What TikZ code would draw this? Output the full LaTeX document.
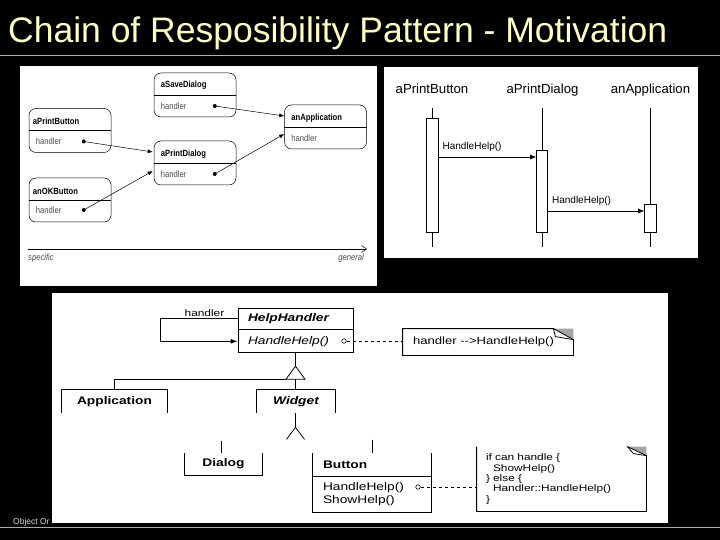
\documentclass[tikz,border=0pt]{standalone}
\usepackage{fontspec}
\setmainfont{Liberation Sans}
\newfontfamily\objfont[FakeStretch=0.85]{Liberation Sans}
\newfontfamily\umlfont[FakeStretch=1.25]{Liberation Sans}
\usetikzlibrary{positioning, arrows.meta, calc}
\definecolor{titletext}{RGB}{255, 255, 190}
\definecolor{slideline}{RGB}{150, 180, 200}
\definecolor{footertext}{RGB}{205, 220, 230}
\definecolor{foldgray}{RGB}{165, 165, 165}

\begin{document}
\begin{tikzpicture}[
    x=1pt, y=-1pt,
    panel/.style={fill=white, draw=none},
    obj/.style={
        draw, rounded corners=7pt, line width=0.5pt,
        minimum width=82pt, minimum height=44pt, inner sep=0pt,
    },
    objname/.style={font=\objfont\fontsize{9}{10}\selectfont\bfseries,
        anchor=west, inner sep=0pt},
    objfield/.style={font=\objfont\fontsize{9}{10}\selectfont, text=black!70,
        anchor=west, inner sep=0pt},
    ptrdot/.style={circle, fill, inner sep=0pt, minimum size=4pt},
    ptr/.style={-{Latex[length=5pt, width=4pt]}, line width=0.5pt},
    head/.style={font=\fontsize{13.2}{15}\selectfont, inner sep=0pt, anchor=base},
    act/.style={draw, fill=white, minimum width=12pt, inner sep=0pt, line width=0.6pt},
    msg/.style={-{Latex[length=6pt, width=5pt]}, line width=0.6pt},
    msgtext/.style={font=\fontsize{10}{12}\selectfont, anchor=south west, inner sep=0pt},
    cls/.style={
        line width=0.8pt, text width=95pt, align=left,
        inner xsep=10pt, inner ysep=0pt,
        font=\umlfont\fontsize{11}{13}\selectfont,
    },
    opdot/.style={circle, draw, fill=white, minimum size=4.5pt, inner sep=0pt, line width=0.6pt},
    uml/.style={line width=0.8pt},
    gen/.style={line width=1.6pt},
]
\useasboundingbox (0,0) rectangle (720,540);
\fill[black] (0,0) rectangle (720,540);

% --- Title and slide rules ---
\node[font=\fontsize{35.5}{40}\selectfont, text=titletext, anchor=base west, inner sep=0pt]
    (title) at (8,43) {Chain of Resposibility Pattern - Motivation};
\draw[slideline, line width=0.8pt] (0,55) -- (720,55);
\draw[slideline, line width=0.8pt] (0,527) -- (720,527);
\node[font=\fontsize{8.5}{10}\selectfont, text=footertext, anchor=base west, inner sep=0pt]
    (footer) at (13,524) {Object Or};

% --- Panels ---
\fill[panel] (20,66) rectangle (377,286);
\fill[panel] (384,67) rectangle (698,258);
\fill[panel] (52,293) rectangle (668,523);

% --- Object chain (top left) ---
\node[obj] (sd)  at (195,95)    {};
\node[obj] (app) at (325.5,127) {};
\node[obj] (pb)  at (70,130.5)  {};
\node[obj] (pd)  at (195,163)   {};
\node[obj] (ok)  at (70,200)    {};

\draw[line width=0.5pt] (sd.west)  -- (sd.east);
\draw[line width=0.5pt] (app.west) -- (app.east);
\draw[line width=0.5pt] (pb.west)  -- (pb.east);
\draw[line width=0.5pt] (pd.west)  -- (pd.east);
\draw[line width=0.5pt] (ok.west)  -- (ok.east);

\node[objname]  (sdname)  at ([xshift=7pt, yshift=10pt]sd.west)   {aSaveDialog};
\node[objfield] (sdfield) at ([xshift=7pt, yshift=-11pt]sd.west)  {handler};
\node[objname]  (appname) at ([xshift=7pt, yshift=9pt]app.west)   {anApplication};
\node[objfield] (appfield) at ([xshift=7pt, yshift=-11pt]app.west) {handler};
\node[objname]  (pbname)  at ([xshift=4pt, yshift=9pt]pb.west)    {aPrintButton};
\node[objfield] (pbfield) at ([xshift=7pt, yshift=-11pt]pb.west)  {handler};
\node[objname]  (pdname)  at ([xshift=7pt, yshift=9pt]pd.west)    {aPrintDialog};
\node[objfield] (pdfield) at ([xshift=7pt, yshift=-11pt]pd.west)  {handler};
\node[objname]  (okname)  at ([xshift=4pt, yshift=9pt]ok.west)    {anOKButton};
\node[objfield] (okfield) at ([xshift=7pt, yshift=-10pt]ok.west)  {handler};

\node[ptrdot] (sddot) at ([xshift=61pt, yshift=-11pt]sd.west) {};
\node[ptrdot] (pbdot) at ([xshift=55pt, yshift=-11pt]pb.west) {};
\node[ptrdot] (pddot) at ([xshift=61pt, yshift=-11pt]pd.west) {};
\node[ptrdot] (okdot) at ([xshift=55pt, yshift=-10pt]ok.west) {};

\draw[ptr] (sddot.center) -- ([yshift=11pt]app.west);
\draw[ptr] (pddot.center) -- ([yshift=-7pt]app.west);
\draw[ptr] (pbdot.center) -- ([xshift=-1pt, yshift=11pt]pd.west);
\draw[ptr] (okdot.center) -- ([xshift=-1pt, yshift=-8pt]pd.west);

% --- specific / general axis ---
\coordinate (spec) at (28,249);
\coordinate (genl) at (367,249);
\draw[-{Straight Barb[length=5pt, width=7pt]}, line width=0.5pt] (spec) -- (genl);
\node[objfield, font=\objfont\fontsize{9}{10}\selectfont\itshape] (speclbl)
    at ([yshift=-9pt]spec) {specific};
\node[objfield, font=\objfont\fontsize{9}{10}\selectfont\itshape, anchor=east] (genlbl)
    at ([xshift=-3pt, yshift=-9pt]genl) {general};

% --- Sequence (top right) ---
\node[head] (hbtn) at (432,94)   {aPrintButton};
\node[head] (hdlg) at (542.5,94) {aPrintDialog};
\node[head] (happ) at (650.5,94) {anApplication};

\coordinate (lltop) at (0,108);
\coordinate (llbot) at (0,247);
\draw[line width=0.6pt] (hbtn |- lltop) -- (hbtn |- llbot);
\draw[line width=0.6pt] (hdlg |- lltop) -- (hdlg |- llbot);
\draw[line width=0.6pt] (happ |- lltop) -- (happ |- llbot);

\node[act, minimum height=114pt] (actbtn) at (432,175) {};
\node[act, minimum height=82pt, minimum width=11pt] (actdlg) at (542,191) {};
\node[act, minimum height=28pt] (actapp) at (650.5,218) {};

\coordinate (m1) at (0,157);
\coordinate (m2) at (0,211);
\draw[msg] (actbtn.east |- m1) -- (actdlg.west |- m1)
    node[msgtext, pos=0, xshift=4pt, yshift=5pt] (m1lbl) {HandleHelp()};
\draw[msg] (actdlg.east |- m2) -- (actapp.west |- m2)
    node[msgtext, pos=0, xshift=4pt, yshift=5pt] (m2lbl) {HandleHelp()};

% --- Class structure (bottom) ---
\node[cls, draw, minimum height=21pt, font=\umlfont\fontsize{11}{13}\selectfont\bfseries\itshape]
    (hh) at (295.5,318.5) {HelpHandler};
\node[cls, draw, minimum height=23pt, font=\umlfont\fontsize{11}{13}\selectfont\itshape,
      below=0pt of hh] (hhops) {HandleHelp()};
\node[opdot] (hhdot) at (344,341) {};

\draw[uml, -{Latex[length=7pt, width=5pt]}] (hh.west) -- ++(-77,0)
    node[pos=0.43, above=2pt, inner sep=0pt, font=\umlfont\fontsize{9.5}{11}\selectfont]
    (selflbl) {handler}
    |- (hhops.west);

% note attached to HelpHandler
\node[cls, text width=150pt, minimum height=26pt, font=\umlfont\fontsize{10.5}{12}\selectfont]
    (note1) at (488,342) {handler --{}>HandleHelp()};
\fill[foldgray] ([xshift=-20pt]note1.north east) -- (note1.north east)
    -- ([yshift=-11pt]note1.north east) -- cycle;
\draw[uml] (note1.north west) -- ([xshift=-20pt]note1.north east)
    -- ([yshift=-11pt]note1.north east) -- (note1.south east)
    -- (note1.south west) -- cycle;
\draw[uml] ([xshift=-20pt]note1.north east) -- ([xshift=-18pt, yshift=-8pt]note1.north east)
    -- ([yshift=-11pt]note1.north east);
\draw[uml, dashed] (hhdot.east) -- (hhdot.east -| note1.west);

% subclasses
\node[cls, text width=85pt, align=center, minimum height=23pt,
      font=\umlfont\fontsize{11}{13}\selectfont\bfseries] (appcls) at (114.5,401.5) {Application};
\node[cls, text width=58pt, align=center, minimum height=23pt,
      font=\umlfont\fontsize{11}{13}\selectfont\bfseries\itshape] (widget) at (296,401.5) {Widget};
\draw[uml] (appcls.south west) -- (appcls.north west) -- (appcls.north east) -- (appcls.south east);
\draw[uml] (widget.south west) -- (widget.north west) -- (widget.north east) -- (widget.south east);

\coordinate (apex) at ([yshift=-13pt]hhops.south);
\coordinate (base) at ([yshift=-13pt]apex);
\draw[gen] (hhops.south) -- (apex);
\draw[uml] (apex) -- ([xshift=-9.5pt]base) -- ([xshift=9.5pt]base) -- cycle;
\draw[uml] ([xshift=-9.5pt]base) -- (base -| appcls.north) -- (appcls.north);
\draw[gen] (base) -- (base |- widget.north);

\coordinate (apex2) at ([yshift=-14pt]widget.south -| apex);
\draw[gen] (widget.south -| apex) -- (apex2);
\draw[uml] ([xshift=-9pt, yshift=-12pt]apex2) -- (apex2) -- ([xshift=9pt, yshift=-12pt]apex2);

% Dialog and Button
\node[cls, text width=57pt, align=center, minimum height=22pt,
      font=\umlfont\fontsize{11}{13}\selectfont\bfseries] (dialog) at (223.5,464) {Dialog};
\draw[uml] (dialog.north west) -- (dialog.south west) -- (dialog.south east) -- (dialog.north east);
\draw[uml] ([xshift=-2pt, yshift=12pt]dialog.north) -- ([xshift=-2pt]dialog.north);

\node[cls, text width=98pt, minimum height=23pt,
      font=\umlfont\fontsize{11}{13}\selectfont\bfseries] (btn) at (372,464.5) {Button};
\node[cls, text width=98pt, minimum height=35pt, below=0pt of btn] (btnops)
    {HandleHelp()\\ShowHelp()};
\draw[uml] (btn.north west) -- (btnops.south west) -- (btnops.south east) -- (btn.north east);
\draw[uml] (btn.south west) -- (btn.south east);
\draw[uml] ([yshift=13pt]btn.north) -- (btn.north);
\node[opdot] (btndot) at (418,487) {};

% note attached to Button
\node[cls, text width=151pt, inner xsep=9pt, minimum height=64pt,
      font=\umlfont\fontsize{9.5}{10.3}\selectfont] (note2) at (561.5,479)
    {if can handle \{\\
     \hspace*{7pt}ShowHelp()\\
     \} else \{\\
     \hspace*{7pt}Handler::HandleHelp()\\
     \}};
\fill[foldgray] ([xshift=-19pt]note2.north east) -- (note2.north east)
    -- ([yshift=-9pt]note2.north east) -- cycle;
\draw[uml] (note2.north west) -- (note2.south west) -- (note2.south east)
    -- ([yshift=-9pt]note2.north east) -- ([xshift=-19pt]note2.north east);
\draw[uml] ([xshift=-19pt]note2.north east) -- ([xshift=-13pt, yshift=-7pt]note2.north east)
    -- ([yshift=-9pt]note2.north east);
\draw[uml, dashed] (btndot.east) -- (btndot.east -| note2.west);

\end{tikzpicture}
\end{document}
